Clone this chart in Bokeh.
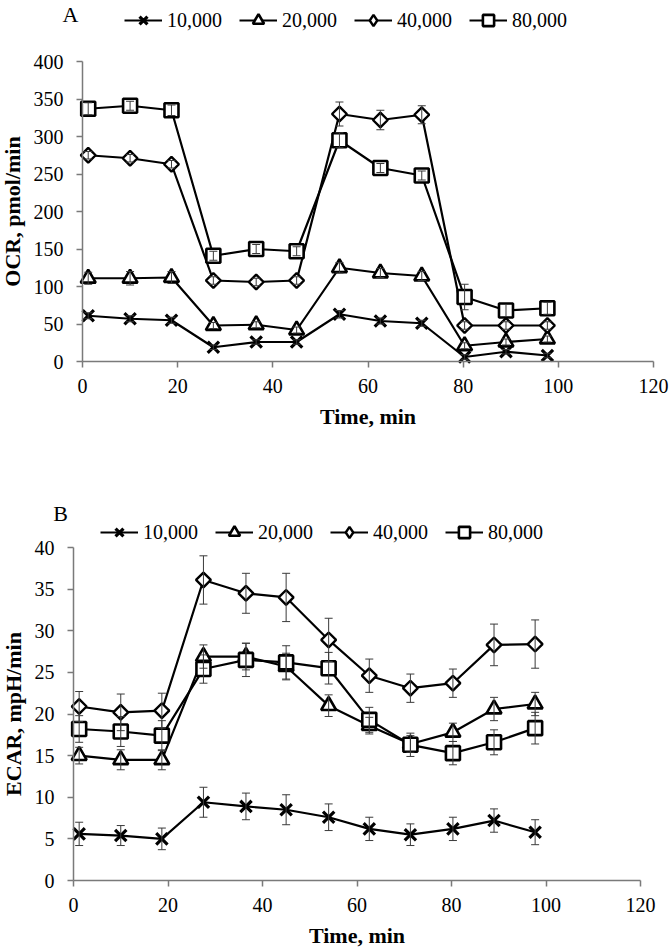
from bokeh.plotting import figure
from bokeh.models import (Legend, LegendItem, Label, Whisker, TeeHead,
                          ColumnDataSource, FixedTicker, Range1d)
from bokeh.embed import file_html
from bokeh.resources import INLINE

# ---------------- data ----------------
time_min = [1.2, 10.0, 18.7, 27.5, 36.5, 45.0, 54.0, 62.6, 71.3, 80.3, 89.0, 97.7]
series_labels = ["10,000", "20,000", "40,000", "80,000"]
series_markers = ["x", "triangle", "diamond", "square"]
x_ticks = [0, 20, 40, 60, 80, 100, 120]
ocr_ticks = [0, 50, 100, 150, 200, 250, 300, 350, 400]
ecar_ticks = [0, 5, 10, 15, 20, 25, 30, 35, 40]

ocr_10k = [61, 57, 55, 19, 26, 26, 63, 54, 51, 6, 13, 8]
ocr_20k = [111, 111, 112, 48, 49, 42, 125, 118, 114, 21, 26, 30]
ocr_40k = [275, 271, 263, 108, 106, 108, 330, 322, 329, 48, 48, 48]
ocr_80k = [337, 341, 335, 141, 150, 147, 295, 258, 248, 86, 68, 71]
ocr_10k_sd = [4, 4, 4, 3, 3, 3, 5, 4, 4, 3, 3, 3]
ocr_20k_sd = [8, 9, 8, 4, 4, 4, 7, 6, 6, 4, 4, 4]
ocr_40k_sd = [5, 5, 5, 5, 5, 5, 16, 13, 12, 5, 5, 5]
ocr_80k_sd = [8, 6, 7, 6, 6, 6, 10, 6, 6, 17, 8, 8]

ecar_10k = [5.6, 5.4, 5.0, 9.4, 8.9, 8.5, 7.6, 6.2, 5.5, 6.2, 7.2, 5.8]
ecar_20k = [15.0, 14.5, 14.5, 26.9, 26.9, 25.7, 21.0, 18.6, 16.4, 17.8, 20.6, 21.2]
ecar_40k = [20.9, 20.2, 20.4, 36.1, 34.5, 34.0, 28.9, 24.6, 23.1, 23.7, 28.3, 28.4]
ecar_80k = [18.2, 17.9, 17.4, 25.4, 26.5, 26.2, 25.5, 19.3, 16.3, 15.3, 16.6, 18.3]
ecar_10k_sd = [1.4, 1.2, 1.3, 1.8, 1.6, 1.8, 1.6, 1.4, 1.3, 1.4, 1.4, 1.5]
ecar_20k_sd = [1.0, 1.2, 1.2, 1.4, 1.6, 1.6, 1.3, 1.0, 1.0, 1.1, 1.4, 1.4]
ecar_40k_sd = [1.8, 2.2, 2.1, 2.9, 2.4, 2.9, 2.6, 2.0, 1.7, 1.7, 2.5, 2.9]
ecar_80k_sd = [1.6, 1.8, 1.8, 1.7, 2.0, 2.0, 1.9, 1.5, 1.4, 1.4, 1.5, 1.9]

FONT = "Liberation Serif"
W = 672


def make_panel(height, axis_left_px, axis_right_px, axis_top_px, axis_bottom_px,
               y_ticks, y_label, series, sds, letter, letter_xy, legend_xy):
    # the frame covers the whole canvas; axes are drawn at fixed data positions
    x0, x1 = x_ticks[0], x_ticks[-1]
    y0, y1 = y_ticks[0], y_ticks[-1]
    kx = (axis_right_px - axis_left_px) / (x1 - x0)
    ky = (axis_bottom_px - axis_top_px) / (y1 - y0)
    xr = Range1d(x0 - axis_left_px / kx, x1 + (W - axis_right_px) / kx)
    yr = Range1d(y0 - (height - axis_bottom_px) / ky, y1 + axis_top_px / ky)

    p = figure(width=W, height=height, output_backend="svg", toolbar_location=None,
               x_range=xr, y_range=yr,
               min_border_left=0, min_border_right=0, min_border_top=0, min_border_bottom=0)
    p.outline_line_color = None
    p.xgrid.visible = False
    p.ygrid.visible = False

    p.xaxis.ticker = FixedTicker(ticks=x_ticks)
    p.yaxis.ticker = FixedTicker(ticks=y_ticks)
    p.xaxis.bounds = (x0, x1)
    p.yaxis.bounds = (y0, y1)
    p.xaxis.fixed_location = y0
    p.yaxis.fixed_location = x0
    p.xaxis.axis_label = "Time, min"
    p.yaxis.axis_label = y_label
    for ax in (p.xaxis, p.yaxis):
        ax.axis_line_color = "#7a7a7a"
        ax.axis_line_width = 1.5
        ax.major_tick_line_color = "#7a7a7a"
        ax.major_tick_line_width = 1.5
        ax.major_tick_out = 6
        ax.major_tick_in = 0
        ax.minor_tick_line_color = None
        ax.major_label_text_font = FONT
        ax.major_label_text_font_size = "20px"
        ax.major_label_text_color = "black"
        ax.axis_label_text_font = FONT
        ax.axis_label_text_font_style = "bold"
        ax.axis_label_text_font_size = "22px"
        ax.axis_label_text_color = "black"
    p.xaxis.major_label_standoff = 11
    p.xaxis.axis_label_standoff = 8
    p.yaxis.major_label_standoff = 13
    p.yaxis.axis_label_standoff = 6

    items = []
    for lab, mk, ys, sd in zip(series_labels, series_markers, series, sds):
        src = ColumnDataSource(dict(t=time_min, y=ys,
                                    lo=[a - b for a, b in zip(ys, sd)],
                                    hi=[a + b for a, b in zip(ys, sd)]))
        ln = p.line("t", "y", source=src, line_color="black", line_width=2.2)
        if mk == "x":
            sc = p.scatter("t", "y", source=src, marker="x", size=16,
                           line_color="black", line_width=3.2)
            rends = [ln, sc]
        elif mk == "triangle":
            sc = p.scatter("t", "y", source=src, marker="triangle", size=15,
                           fill_color="white", line_color="black", line_width=2.6)
            rends = [ln, sc]
        elif mk == "diamond":
            # diamond glyph (shown in the legend) under a wider rhombus (square at 45 deg)
            sd_glyph = p.scatter("t", "y", source=src, marker="diamond", size=13,
                                 fill_color="white", line_color="black", line_width=2.4)
            p.scatter("t", "y", source=src, marker="square", size=10.5,
                      angle=45, angle_units="deg",
                      fill_color="white", line_color="black", line_width=2.4)
            rends = [ln, sd_glyph]
        else:
            sc = p.scatter("t", "y", source=src, marker="square", size=14,
                           fill_color="white", line_color="black", line_width=2.6)
            rends = [ln, sc]
        wk = Whisker(source=src, base="t", lower="lo", upper="hi",
                     line_color="#3a3a3a", line_width=1, level="overlay",
                     upper_head=TeeHead(size=8, line_color="#3a3a3a", line_width=1),
                     lower_head=TeeHead(size=8, line_color="#3a3a3a", line_width=1))
        p.add_layout(wk)
        items.append(LegendItem(label=lab, renderers=rends))

    legend = Legend(items=items, orientation="horizontal", location=legend_xy,
                    padding=0, margin=0, spacing=17, glyph_width=38, glyph_height=28,
                    label_standoff=5, label_text_font=FONT, label_text_font_size="20px",
                    label_text_color="black", border_line_color=None,
                    background_fill_alpha=0)
    p.add_layout(legend)

    p.add_layout(Label(x=letter_xy[0], y=letter_xy[1], x_units="screen", y_units="screen",
                       text=letter, text_font=FONT, text_font_size="22px",
                       text_align="center", text_baseline="middle", text_color="black"))
    return p


HA = 436
HB = 513
pA = make_panel(HA, 82, 653, 61, 361, ocr_ticks, "OCR, pmol/min",
                [ocr_10k, ocr_20k, ocr_40k, ocr_80k],
                [ocr_10k_sd, ocr_20k_sd, ocr_40k_sd, ocr_80k_sd],
                "A", (70, HA - 14), (124, HA - 34))
pB = make_panel(HB, 73, 640, 547 - HA, 880 - HA, ecar_ticks, "ECAR, mpH/min",
                [ecar_10k, ecar_20k, ecar_40k, ecar_80k],
                [ecar_10k_sd, ecar_20k_sd, ecar_40k_sd, ecar_80k_sd],
                "B", (60, HB - (513 - HA)), (100, HB - (546 - HA)))

open("out.html", "w").write(file_html([pA, pB], INLINE))
